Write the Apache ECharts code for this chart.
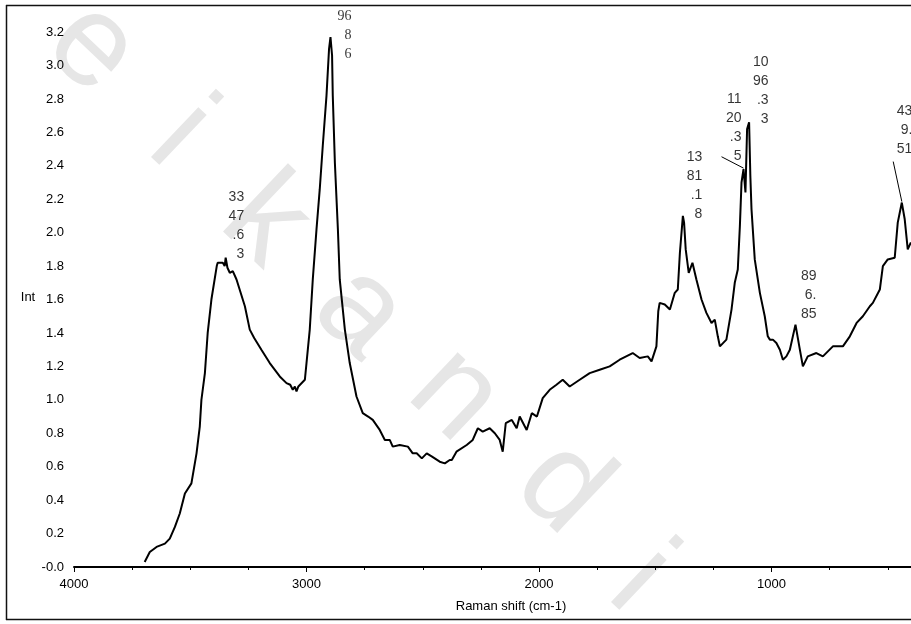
<!DOCTYPE html>
<html>
<head>
<meta charset="utf-8">
<script src="https://cdn.jsdelivr.net/npm/echarts@6/dist/echarts.min.js"></script>
<style>
  html, body { margin: 0; padding: 0; background: #fff; }
  #chart { width: 911px; height: 624px; }
</style>
</head>
<body>
<div id="chart"></div>
<script>
// Raman spectrum: shift in cm-1 and intensity
const ramanShift = [
  3696, 3674, 3645, 3609, 3588, 3566, 3545, 3523, 3495, 3473, 3459, 3452, 3437, 3425, 3409,
  3386, 3382, 3360, 3352, 3347.63, 3340, 3330, 3317, 3301, 3265, 3244, 3225, 3194, 3158,
  3115, 3086, 3070, 3059, 3050, 3043, 3035, 3029, 3007, 3000, 2986, 2973, 2957, 2943, 2930,
  2914, 2903, 2896.86, 2890, 2887, 2878, 2865, 2857, 2835, 2814, 2785, 2758, 2735, 2715,
  2685, 2663, 2642, 2629, 2599, 2564, 2543, 2526, 2504, 2483, 2460, 2427, 2405, 2384, 2375,
  2355, 2311, 2285, 2263, 2242, 2212, 2190, 2169, 2156, 2143, 2117, 2096, 2083, 2053, 2031,
  2009, 1984, 1954, 1925, 1898, 1868, 1825, 1782, 1739, 1696, 1653, 1597, 1567, 1532, 1516,
  1495, 1487, 1481, 1459, 1437, 1416, 1403, 1394, 1381.18, 1376, 1369, 1356, 1340, 1323,
  1301, 1280, 1258, 1244, 1231, 1222, 1194, 1172, 1158, 1145, 1136, 1129, 1120.35, 1112,
  1105, 1096.33, 1091, 1086, 1072, 1050, 1029, 1016, 1007, 994, 979, 964, 951, 936, 921,
  896.85, 878, 865, 844, 807, 779, 736, 693, 663, 634, 607, 577, 564, 534, 521, 500, 470,
  457, 439.51, 427, 414, 401, 390
];
const intensity = [
  0.03, 0.09, 0.12, 0.14, 0.17, 0.24, 0.32, 0.44, 0.50, 0.68, 0.84, 1.00, 1.16, 1.40, 1.60,
  1.80, 1.82, 1.82, 1.80, 1.85, 1.79, 1.76, 1.77, 1.72, 1.56, 1.42, 1.37, 1.30, 1.22,
  1.14, 1.10, 1.09, 1.06, 1.08, 1.05, 1.08, 1.09, 1.12, 1.22, 1.42, 1.72, 2.02, 2.26, 2.52,
  2.82, 3.10, 3.17, 3.06, 2.82, 2.42, 2.02, 1.72, 1.42, 1.22, 1.02, 0.92, 0.90, 0.88,
  0.82, 0.76, 0.76, 0.72, 0.73, 0.72, 0.68, 0.68, 0.65, 0.68, 0.66, 0.63, 0.62, 0.64, 0.64,
  0.69, 0.73, 0.76, 0.83, 0.81, 0.83, 0.80, 0.76, 0.69, 0.86, 0.88, 0.83, 0.90, 0.82, 0.92,
  0.90, 1.01, 1.06, 1.09, 1.12, 1.08, 1.12, 1.16, 1.18, 1.20, 1.24, 1.28, 1.25, 1.26, 1.23,
  1.32, 1.53, 1.58, 1.57, 1.54, 1.64, 1.66, 1.88, 2.10, 2.06, 1.90, 1.76, 1.82, 1.72,
  1.60, 1.52, 1.46, 1.48, 1.38, 1.32, 1.36, 1.54, 1.70, 1.78, 2.04, 2.30, 2.38, 2.24,
  2.62, 2.66, 2.34, 2.14, 1.84, 1.64, 1.50, 1.38, 1.36, 1.36, 1.34, 1.30, 1.24, 1.26, 1.30,
  1.45, 1.30, 1.20, 1.26, 1.28, 1.26, 1.32, 1.32, 1.38, 1.46, 1.50, 1.56, 1.58, 1.66, 1.80, 1.84, 1.85,
  2.06, 2.18, 2.08, 1.90, 1.94, 1.92
];

// Peak positions picked by the instrument software, with their printed labels
const peakShift = [3347.63, 2896.86, 1381.18, 1120.35, 1096.33, 896.85, 439.51];
const peakText = ['33\n47\n.6\n3', '96\n8\n6', '13\n81\n.1\n8', '11\n20\n.3\n5', '10\n96\n.3\n3', '89\n6.\n85', '43\n9.\n51'];

// Axis ticks
const xTickValues = [4000, 3000, 2000, 1000];
const yTickStep = 0.2;

// Label placement relative to each peak (pixels)
const peakLabelOffset = [[19, 6], [21.5, 27.5], [20, 8.5], [-1.5, -2.6], [20, 7], [21.5, 0], [11, -43]];
const peakLabelFont = ['Liberation Sans', 'Liberation Serif', 'Liberation Sans', 'Liberation Sans', 'Liberation Sans', 'Liberation Sans', 'Liberation Sans'];
// Leader lines for crowded labels: [peak index, start offset, end offset]
const leaderLines = [[3, [-22, -12.4], [0, -1]], [6, [-8.6, -41], [0, -1]]];

const spectrum = ramanShift.map((w, i) => [w, intensity[i]]);
const peaks = peakShift.map((w, i) => ({
  value: [w, intensity[ramanShift.indexOf(w)]],
  label: {
    position: peakLabelOffset[i],
    fontFamily: peakLabelFont[i],
    formatter: peakText[i]
  }
}));

const chart = echarts.init(document.getElementById('chart'), null, { renderer: 'canvas' });
const sans = 'Liberation Sans, Arial, sans-serif';

chart.setOption({
  animation: false,
  backgroundColor: '#ffffff',
  // the 0-4000 axis runs past the right edge of the page; only down to ~400 cm-1 is visible
  grid: { left: 74, width: 930, top: 12, height: 555, containLabel: false, outerBoundsMode: 'none' },
  xAxis: {
    type: 'value',
    inverse: true,
    min: 0,
    max: 4000,
    interval: 1000,
    axisLine: { show: true, onZero: false, lineStyle: { color: '#000', width: 2 } },
    axisTick: { show: true, inside: false, length: 5, lineStyle: { color: '#000', width: 1 } },
    minorTick: { show: true, splitNumber: 4, length: 3, lineStyle: { color: '#000', width: 1 } },
    splitLine: { show: false },
    axisLabel: {
      margin: 11,
      color: '#000',
      fontFamily: sans,
      fontSize: 13,
      formatter: v => (xTickValues.indexOf(v) >= 0 ? String(v) : '')
    }
  },
  yAxis: {
    type: 'value',
    min: 0,
    max: 3.32,
    interval: yTickStep,
    axisLine: { show: true, lineStyle: { color: '#000', width: 2 } },
    axisTick: { show: true, inside: false, length: 5, lineStyle: { color: '#000', width: 1 } },
    minorTick: { show: true, splitNumber: 4, length: 3, lineStyle: { color: '#000', width: 1 } },
    splitLine: { show: false },
    axisLabel: {
      margin: 10,
      color: '#000',
      fontFamily: sans,
      fontSize: 13,
      formatter: v => {
        const k = v / yTickStep;
        if (Math.abs(k - Math.round(k)) > 1e-6) return '';
        return v === 0 ? '-0.0' : v.toFixed(1);
      }
    }
  },
  series: [
    {
      type: 'line',
      data: spectrum,
      showSymbol: false,
      smooth: false,
      clip: true,
      lineStyle: { color: '#000', width: 2 },
      z: 3
    },
    {
      type: 'scatter',
      data: peaks,
      symbolSize: 1,
      itemStyle: { color: 'rgba(0,0,0,0)' },
      silent: true,
      z: 4,
      label: {
        show: true,
        align: 'right',
        verticalAlign: 'bottom',
        fontSize: 14,
        lineHeight: 19,
        color: '#000'
      }
    }
  ]
});

// Frame, axis titles, faint stamp lettering and leader lines
const stampLetters = ['e', 'i', 'k', 'a', 'n', 'd', 'i'];
const stampPos = [[92, 48], [180, 135], [265, 222], [360, 312], [455, 395], [562, 488], [640, 580]];
const graphics = [];
stampLetters.forEach((ch, i) => {
  graphics.push({
    type: 'text', x: stampPos[i][0], y: stampPos[i][1], rotation: -0.76, z: -10,
    style: { text: ch, fill: '#e6e6e6', font: '130px "Liberation Sans", sans-serif', textAlign: 'center', textVerticalAlign: 'middle' }
  });
});
// open frame: left, top and bottom edges
[[6.5, 5, 6.5, 620], [6, 5.5, 911, 5.5], [6, 619.5, 911, 619.5]].forEach(s => {
  graphics.push({
    type: 'line', z: 10, silent: true,
    shape: { x1: s[0], y1: s[1], x2: s[2], y2: s[3] },
    style: { stroke: '#111', lineWidth: 1.5 }
  });
});
graphics.push({
  type: 'text', x: 28, y: 297, z: 10,
  style: { text: 'Int', fill: '#000', font: '13px "Liberation Sans", sans-serif', textAlign: 'center', textVerticalAlign: 'middle' }
});
graphics.push({
  type: 'text', x: 511, y: 606, z: 10,
  style: { text: 'Raman shift (cm-1)', fill: '#000', font: '13px "Liberation Sans", sans-serif', textAlign: 'center', textVerticalAlign: 'middle' }
});
leaderLines.forEach(([idx, a, b]) => {
  const p = chart.convertToPixel({ gridIndex: 0 }, peaks[idx].value);
  graphics.push({
    type: 'line', z: 10,
    shape: { x1: p[0] + a[0], y1: p[1] + a[1], x2: p[0] + b[0], y2: p[1] + b[1] },
    style: { stroke: '#000', lineWidth: 1 }
  });
});
chart.setOption({ graphic: graphics });
</script>
</body>
</html>
